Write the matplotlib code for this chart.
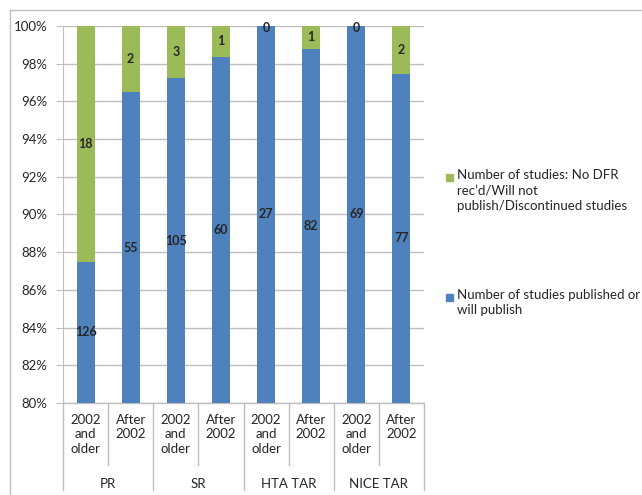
import matplotlib
matplotlib.use("Agg")
import matplotlib.pyplot as plt
from matplotlib.patches import Rectangle
from matplotlib.lines import Line2D
import numpy as np

groups = ["PR", "SR", "HTA TAR", "NICE TAR"]
periods = ["2002\nand\nolder", "After\n2002"]
published = [126, 55, 105, 60, 27, 82, 69, 77]
not_published = [18, 2, 3, 1, 0, 1, 0, 2]
yticks = [80, 82, 84, 86, 88, 90, 92, 94, 96, 98, 100]
legend_green = "Number of studies: No DFR\nrec\u2019d/Will not\npublish/Discontinued studies"
legend_blue = "Number of studies published or\nwill publish"

BLUE = "#4F81BD"
GREEN = "#9BBB59"
GRID = "#BFBFBF"
TXT = "#262626"

plt.rcParams['font.family'] = ['Lato', 'DejaVu Sans']

W, H = 642, 495
fig = plt.figure(figsize=(W / 100, H / 100), dpi=100)

def fx(px):
    return px / W

def fy(py):
    return 1 - py / H

L, R, T, B = 63, 424, 26, 403
ax = fig.add_axes([fx(L), fy(B), fx(R) - fx(L), fy(T) - fy(B)])

pub = np.array(published, float)
npub = np.array(not_published, float)
tot = pub + npub
pb = pub / tot * 100
nb = npub / tot * 100
x = np.arange(len(pub))
ymin, ymax = 80, 100

ax.bar(x, pb, width=0.4, color=BLUE, zorder=3)
ax.bar(x, nb, bottom=pb, width=0.4, color=GREEN, zorder=3)

for i in range(len(x)):
    yb = (ymin + min(pb[i], ymax)) / 2
    ax.text(x[i], yb, f"{published[i]}", ha="center", va="center",
            fontsize=9, fontweight="bold", color=TXT, zorder=4)
    if not_published[i] == 0:
        ax.text(x[i], ymax - 0.12, "0", ha="center", va="center",
                fontsize=9, fontweight="bold", color=TXT, zorder=4)
    else:
        yg = (pb[i] + ymax) / 2
        ax.text(x[i], yg, f"{not_published[i]}", ha="center", va="center",
                fontsize=9, fontweight="bold", color=TXT, zorder=4)

ax.set_xlim(-0.5, len(x) - 0.5)
ax.set_ylim(ymin, ymax)
ax.set_yticks(yticks)
ax.set_yticklabels([f"{t}%" for t in yticks], fontsize=9.5, color=TXT)
ax.tick_params(axis="y", length=5, color=GRID, pad=6)
ax.set_xticks([])
ax.yaxis.grid(True, color=GRID, linewidth=1, zorder=0)
for s in ["top", "right", "bottom"]:
    ax.spines[s].set_visible(False)
ax.spines["left"].set_color(GRID)

# category separators and labels
trans = ax.get_xaxis_transform()
ah = B - T
def ay(py):
    return (B - py) / ah

for k in range(len(x) + 1):
    xb = k - 0.5
    end = 490 if k % 2 == 0 else 465
    ax.add_line(Line2D([xb, xb], [0, ay(end)], transform=trans, color=GRID,
                       linewidth=1, clip_on=False))
ax.add_line(Line2D([-0.5, len(x) - 0.5], [0, 0], transform=trans, color=GRID,
                   linewidth=1, clip_on=False))

for i in range(len(x)):
    ax.text(x[i], ay(414), periods[i % 2], transform=trans, ha="center", va="top",
            fontsize=9.5, color=TXT, linespacing=1.25)
for g, name in enumerate(groups):
    ax.text(2 * g + 0.5, ay(484), name, transform=trans, ha="center", va="center",
            fontsize=9.5, color=TXT)

# outer chart border (top and left visible)
fig.add_artist(Line2D([fx(10), fx(642)], [fy(10), fy(10)], color="#BFBFBF", linewidth=1))
fig.add_artist(Line2D([fx(10), fx(10)], [fy(10), fy(495)], color="#BFBFBF", linewidth=1))

# legend
def legend_entry(ytop, color, text):
    fig.add_artist(Rectangle((fx(446), fy(ytop + 7)), fx(7), 7 / H, color=color,
                             transform=fig.transFigure))
    fig.text(fx(457), fy(ytop - 5), text, ha="left", va="top", fontsize=9.5,
             color=TXT, linespacing=1.35)

legend_entry(174, GREEN, legend_green)
legend_entry(294, BLUE, legend_blue)

fig.savefig("out.png", dpi=100)
